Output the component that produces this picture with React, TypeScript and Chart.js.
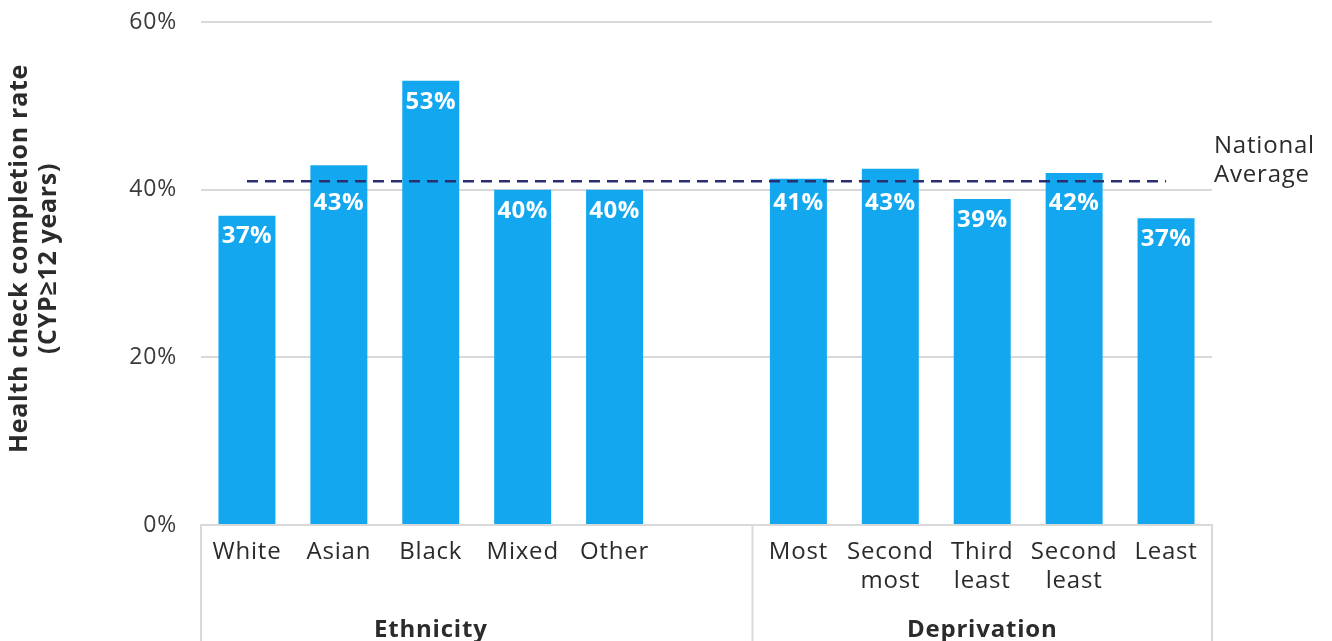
import React, { useEffect, useRef } from "react";
import { Chart, registerables } from "chart.js";

Chart.register(...registerables);

const categories: (string | string[])[] = [
  "White", "Asian", "Black", "Mixed", "Other", "",
  "Most", ["Second", "most"], ["Third", "least"], ["Second", "least"], "Least",
];
const completionRates: (number | null)[] = [36.9, 42.9, 53.0, 40.0, 40.0, null, 41.3, 42.5, 38.9, 42.0, 36.6];
const rateLabels = ["37%", "43%", "53%", "40%", "40%", "", "41%", "43%", "39%", "42%", "37%"];
const nationalAverage = 41;
const groupNames = ["Ethnicity", "Deprivation"];
const groupStarts = [0, 6];
const groupEnds = [4, 10];
const yTickValues = [0, 20, 40, 60];
const yTitleLines = ["Health check completion rate", "(CYP\u226512 years)"];
const averageLabelLines = ["National", "Average"];

const FONT = "'Open Sans', 'Noto Sans', sans-serif";
const BAR_COLOR = "#13a7f0";
const GRID_COLOR = "#d9d9d9";
const TEXT_COLOR = "#2b2b2b";

const spacingPlugin = {
  id: "spacing",
  beforeUpdate(chart: any) {
    chart.ctx.letterSpacing = "0.8px";
  },
  beforeDraw(chart: any) {
    chart.ctx.letterSpacing = "0.8px";
  },
};

const overlayPlugin = {
  id: "overlay",
  afterDatasetsDraw(chart: any) {
    const { ctx, chartArea, scales } = chart;
    const x = scales.x;
    const y = scales.y;
    const avgY = y.getPixelForValue(nationalAverage);
    ctx.save();

    // value labels inside bars (kept clear of the average line)
    const barMeta = chart.getDatasetMeta(1);
    ctx.letterSpacing = "0.5px";
    ctx.font = `bold 24px ${FONT}`;
    ctx.fillStyle = "#ffffff";
    ctx.textAlign = "center";
    ctx.textBaseline = "middle";
    barMeta.data.forEach((el: any, i: number) => {
      if (completionRates[i] == null) return;
      let ly = el.y + 21;
      if (el.y > avgY - 25 && ly < avgY + 22) ly = avgY + 22;
      ctx.fillText(rateLabels[i], el.x, ly);
    });

    // group separators
    ctx.strokeStyle = GRID_COLOR;
    ctx.lineWidth = 2;
    const sepXs = [chartArea.left];
    for (let g = 0; g < groupNames.length - 1; g++) {
      const nextStart = groupStarts[g + 1];
      sepXs.push((x.getPixelForValue(nextStart - 1) + x.getPixelForValue(nextStart)) / 2);
    }
    sepXs.push(chartArea.right);
    sepXs.forEach((sx) => {
      ctx.beginPath();
      ctx.moveTo(sx, chartArea.bottom);
      ctx.lineTo(sx, chart.height);
      ctx.stroke();
    });

    // group labels
    ctx.letterSpacing = "0.8px";
    ctx.font = `bold 24px ${FONT}`;
    ctx.fillStyle = TEXT_COLOR;
    ctx.textAlign = "center";
    ctx.textBaseline = "middle";
    groupNames.forEach((name, g) => {
      const cx = (x.getPixelForValue(groupStarts[g]) + x.getPixelForValue(groupEnds[g])) / 2;
      ctx.fillText(name, cx, chartArea.bottom + 105);
    });

    // national average label
    ctx.font = `24px ${FONT}`;
    ctx.textAlign = "left";
    averageLabelLines.forEach((line, i) => {
      ctx.fillText(line, chartArea.right + 2, avgY - 35 + i * 29);
    });

    // y axis title
    ctx.letterSpacing = "0.7px";
    ctx.font = `bold 25px ${FONT}`;
    ctx.textAlign = "center";
    ctx.translate(0, (chartArea.top + chartArea.bottom) / 2 - 15);
    ctx.rotate(-Math.PI / 2);
    yTitleLines.forEach((line, i) => {
      ctx.fillText(line, 0, 12 + i * 29);
    });
    ctx.restore();
  },
};

export default function App() {
  const canvasRef = useRef<HTMLCanvasElement | null>(null);

  useEffect(() => {
    if (!canvasRef.current) return;
    const chart = new Chart(canvasRef.current, {
      type: "bar",
      data: {
        labels: categories,
        datasets: [
          {
            type: "line",
            label: "National Average",
            data: categories.map(() => nationalAverage),
            borderColor: "#2a2d6e",
            borderWidth: 2.5,
            borderDash: [11, 7],
            pointRadius: 0,
            fill: false,
            order: 0,
          } as any,
          {
            type: "bar",
            label: "Completion rate",
            data: completionRates,
            backgroundColor: BAR_COLOR,
            barPercentage: 0.62,
            categoryPercentage: 1,
            order: 1,
          },
        ],
      },
      options: {
        animation: false,
        responsive: false,
        maintainAspectRatio: false,
        layout: { padding: { top: 14, right: 112, left: 0, bottom: 0 } },
        plugins: {
          legend: { display: false },
          tooltip: { enabled: false },
        },
        scales: {
          x: {
            grid: { display: false, drawTicks: false },
            border: { display: true, color: GRID_COLOR, width: 2 },
            ticks: {
              color: TEXT_COLOR,
              font: { family: FONT, size: 24, lineHeight: 1.2 },
              padding: 13,
              maxRotation: 0,
              autoSkip: false,
            },
            afterFit: (scale: any) => {
              scale.height = 133;
            },
          },
          y: {
            min: 0,
            max: 60,
            grid: { color: GRID_COLOR, lineWidth: 2, drawTicks: false },
            border: { display: false },
            afterBuildTicks: (scale: any) => {
              scale.ticks = yTickValues.map((v) => ({ value: v }));
            },
            ticks: {
              color: "#3a3a3a",
              font: { family: FONT, size: 23 },
              padding: 24,
              callback: (v: any) => `${v}%`,
            },
            afterFit: (scale: any) => {
              scale.width = 193;
              scale.paddingTop = 0;
              scale.paddingBottom = 0;
            },
          },
        },
      },
      plugins: [spacingPlugin, overlayPlugin],
    });
    return () => chart.destroy();
  }, []);

  return (
    <div style={{ width: 1316, height: 650 }}>
      <canvas ref={canvasRef} width={1316} height={650} style={{ display: "block" }} />
    </div>
  );
}
